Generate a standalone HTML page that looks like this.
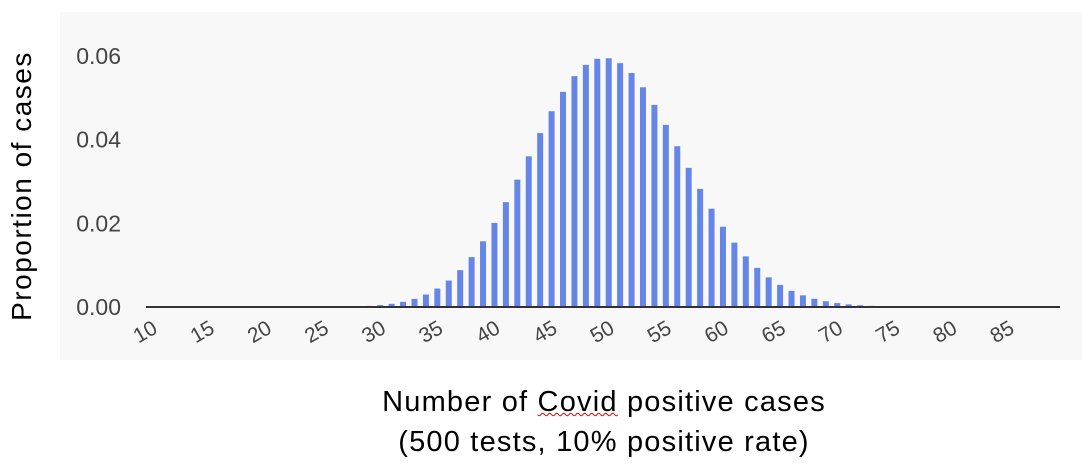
<!DOCTYPE html>
<html><head><meta charset="utf-8"><style>
html,body{margin:0;padding:0;background:#fff;}
body{width:1085px;height:471px;overflow:hidden;position:relative;font-family:"Liberation Sans",sans-serif;}
.title{position:absolute;color:#000;white-space:nowrap;line-height:1;}
</style></head><body>
<svg width="1085" height="471" style="position:absolute;left:0;top:0">
<rect x="60" y="12" width="1022" height="348" fill="#f8f8f8"/>
<g id="yticks"></g><g id="bars"></g><g id="xticks"></g>
<line x1="146" y1="307" x2="1060" y2="307" stroke="#333" stroke-width="2"/>
</svg>
<div class="title" style="left:22px;top:186px;transform:translate(-50%,-50%) rotate(-90deg);font-size:28px;letter-spacing:1.5px;">Proportion of cases</div>
<div class="title" style="left:604px;top:388px;transform:translateX(-50%);font-size:29px;letter-spacing:1.2px;">Number of <span style="text-decoration:underline wavy #d00;text-decoration-thickness:1px;">Covid</span> positive cases</div>
<div class="title" style="left:604px;top:428px;transform:translateX(-50%);font-size:29px;letter-spacing:1.2px;">(500 tests, 10% positive rate)</div>
<script>
const categories = [];
for (let k = 10; k <= 89; k++) categories.push(k);
const values = [
0,0,0,0,0,0,0,0,0,0,0,0,0,0,0,0.000019,0.000039,0.000076,0.000143,0.000259,
0.000452,0.000761,0.00124,0.00195,0.00298,0.00441,0.00632,0.00881,0.01193,0.0157,
0.02011,0.02507,0.03044,0.03602,0.04157,0.0468,0.05143,0.0552,0.05789,0.05933,
0.05946,0.05829,0.05593,0.05253,0.04831,0.04353,0.03843,0.03326,0.02823,0.0235,
0.01919,0.01538,0.0121,0.00935,0.00709,0.00529,0.00387,0.00279,0.00197,0.00137,
0.000938,0.000631,0.000418,0.000272,0.000174,0.00011,0.000068,0.000042,0.000025,0.000015,
0.000009,0,0,0,0,0,0,0,0,0
];
const yTicks = [0, 0.02, 0.04, 0.06];
const yTickLabels = ["0.00","0.02","0.04","0.06"];
const xTickLabels = [10,15,20,25,30,35,40,45,50,55,60,65,70,75,80,85];

const NS = "http://www.w3.org/2000/svg";
const X0 = 146, X1 = 1060, Y0 = 307, YTOP = 56;
const step = (X1 - X0) / categories.length;
function xScale(cat){ return X0 + (categories.indexOf(cat) + 0.5) * step; }
function yScale(v){ return Y0 - v / 0.06 * (Y0 - YTOP); }

const yg = document.getElementById('yticks');
yTicks.forEach((t, i) => {
  const tx = document.createElementNS(NS, 'text');
  tx.setAttribute('x', 121); tx.setAttribute('y', yScale(t) + 8);
  tx.setAttribute('text-anchor', 'end'); tx.setAttribute('font-size', '23');
  tx.setAttribute('fill', '#444'); tx.setAttribute('font-family', 'Liberation Sans, sans-serif');
  tx.textContent = yTickLabels[i];
  
  
  yg.appendChild(tx);
});

const bg = document.getElementById('bars');
categories.forEach((c, i) => {
  const v = values[i];
  const y = yScale(v);
  const r = document.createElementNS(NS, 'rect');
  r.setAttribute('x', xScale(c) - 3); r.setAttribute('width', 6);
  r.setAttribute('y', y); r.setAttribute('height', Math.max(0, Y0 - y));
  r.setAttribute('fill', '#6586e6');
  
  
  bg.appendChild(r);
});

const xg = document.getElementById('xticks');
xTickLabels.forEach(l => {
  const x = xScale(l) + 7, y = 332;
  const tx = document.createElementNS(NS, 'text');
  tx.setAttribute('x', x); tx.setAttribute('y', y);
  tx.setAttribute('text-anchor', 'end'); tx.setAttribute('font-size', '21');
  tx.setAttribute('fill', '#444'); tx.setAttribute('font-family', 'Liberation Sans, sans-serif');
  tx.setAttribute('transform', 'rotate(-30 ' + x + ' ' + y + ')');
  tx.textContent = l;
  
  
  xg.appendChild(tx);
});
</script>
</body></html>
